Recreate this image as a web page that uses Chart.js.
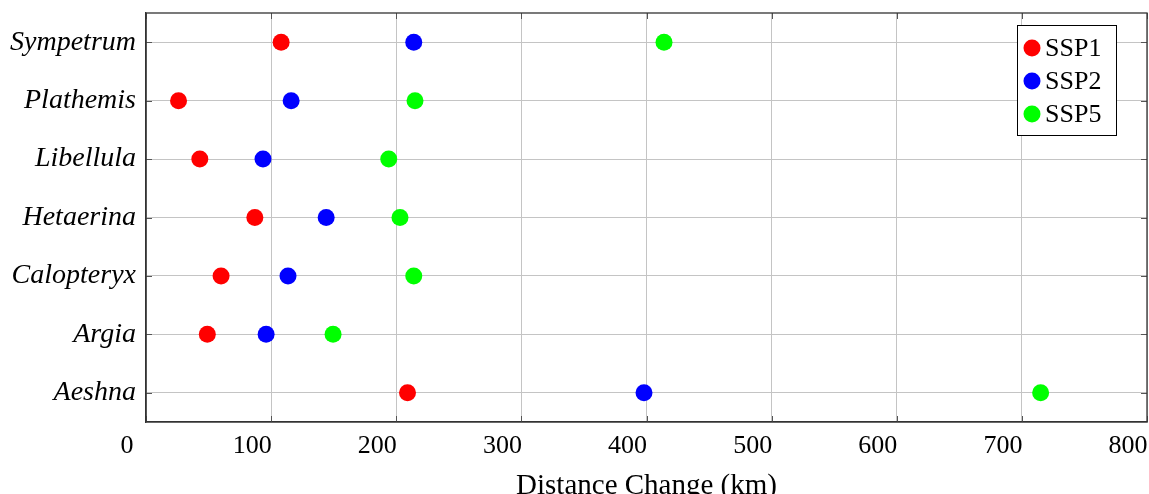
<!DOCTYPE html>
<html>
<head>
<meta charset="utf-8">
<script src="https://cdn.jsdelivr.net/npm/chart.js@4/dist/chart.umd.min.js"></script>
<style>
  html, body { margin: 0; padding: 0; background: #fff; overflow: hidden; }
  #wrap { width: 1149px; height: 510px; }
</style>
</head>
<body>
<div id="wrap"><canvas id="chart"></canvas></div>
<script>
const genera = ['Sympetrum', 'Plathemis', 'Libellula', 'Hetaerina', 'Calopteryx', 'Argia', 'Aeshna'];
const ssp1 = [108, 26, 43, 87, 60, 49, 209];
const ssp2 = [214, 116, 93.5, 144, 113.5, 96, 398];
const ssp5 = [414, 215, 194, 203, 214, 149.5, 715];
const xTicks = [0, 100, 200, 300, 400, 500, 600, 700, 800];

const serif = '"Liberation Serif", "DejaVu Serif", serif';

function points(values) {
    return values.map((v, i) => ({ x: v, y: genera[i] }));
}

function series(label, values, color) {
    return {
        label: label,
        data: points(values),
        backgroundColor: color,
        borderColor: color,
        pointRadius: 8.5,
        pointHoverRadius: 8.5,
        borderWidth: 0
    };
}

// legend drawn inside the plot, top right, like pgfplots
const insideLegend = {
    id: 'insideLegend',
    afterDraw(chart) {
        const ctx = chart.ctx;
        const area = chart.chartArea;
        const boxW = 99, boxH = 110;
        const left = area.right - 31 - boxW;
        const top = area.top + 12;
        ctx.save();
        ctx.fillStyle = '#fff';
        ctx.fillRect(left, top, boxW, boxH);
        ctx.strokeStyle = '#000';
        ctx.lineWidth = 1;
        ctx.strokeRect(left + 0.5, top + 0.5, boxW, boxH);
        ctx.font = '26px ' + serif;
        ctx.textBaseline = 'middle';
        chart.data.datasets.forEach((ds, i) => {
            const cy = top + 23 + i * 33;
            ctx.fillStyle = ds.backgroundColor;
            ctx.beginPath();
            ctx.arc(left + 15, cy, 8.5, 0, Math.PI * 2);
            ctx.fill();
            ctx.fillStyle = '#000';
            ctx.fillText(ds.label, left + 28, cy + 1);
        });
        ctx.restore();
    }
};

// frame + small inward tick marks on all four sides
const innerTicks = {
    id: 'innerTicks',
    afterDatasetsDraw(chart) {
        const ctx = chart.ctx;
        const area = chart.chartArea;
        const xs = chart.scales.x, ys = chart.scales.y;
        ctx.save();
        ctx.strokeStyle = '#555';
        ctx.lineWidth = 1;
        ctx.beginPath();
        xs.ticks.forEach((t, i) => {
            const px = Math.round(xs.getPixelForTick(i)) + 0.5;
            ctx.moveTo(px, area.bottom); ctx.lineTo(px, area.bottom - 6);
            ctx.moveTo(px, area.top); ctx.lineTo(px, area.top + 6);
        });
        ys.ticks.forEach((t, i) => {
            const py = Math.round(ys.getPixelForTick(i)) + 0.5;
            ctx.moveTo(area.left, py); ctx.lineTo(area.left + 6, py);
            ctx.moveTo(area.right, py); ctx.lineTo(area.right - 6, py);
        });
        ctx.stroke();
        ctx.strokeStyle = '#333';
        ctx.lineWidth = 1.3;
        ctx.strokeRect(area.left, area.top, area.right - area.left, area.bottom - area.top);
        ctx.restore();
    }
};

new Chart(document.getElementById('chart'), {
    type: 'scatter',
    data: {
        datasets: [
            series('SSP1', ssp1, '#ff0000'),
            series('SSP2', ssp2, '#0000ff'),
            series('SSP5', ssp5, '#00ff00')
        ]
    },
    options: {
        responsive: true,
        maintainAspectRatio: false,
        animation: false,
        layout: { autoPadding: false, padding: { top: 13, right: 2, left: 0, bottom: 6 } },
        plugins: {
            legend: { display: false },
            tooltip: { enabled: false }
        },
        scales: {
            x: {
                type: 'linear',
                min: 0,
                max: 800,
                afterBuildTicks(scale) {
                    scale.ticks = xTicks.map(v => ({ value: v }));
                },
                afterFit(scale) {
                    scale.height = 82;
                    scale.paddingLeft = 0;
                    scale.paddingRight = 0;
                },
                ticks: {
                    color: '#000',
                    font: { family: serif, size: 26 },
                    labelOffset: -19,
                    padding: 9,
                    maxRotation: 0
                },
                grid: { color: '#c4c4c4', lineWidth: 1, drawTicks: false },
                border: { color: '#333', width: 1.3 },
                title: {
                    display: true,
                    text: 'Distance Change (km)',
                    color: '#000',
                    font: { family: serif, size: 29 },
                    padding: { top: 0, bottom: 0 }
                }
            },
            y: {
                type: 'category',
                labels: genera,
                offset: true,
                afterFit(scale) {
                    scale.width = 146;
                    scale.paddingTop = 0;
                    scale.paddingBottom = 0;
                },
                ticks: {
                    color: '#000',
                    font: { family: serif, size: 28, style: 'italic' },
                    padding: 10
                },
                grid: { color: '#c4c4c4', lineWidth: 1, drawTicks: false, offset: false },
                border: { color: '#333', width: 1.3 }
            }
        }
    },
    plugins: [innerTicks, insideLegend]
});
</script>
</body>
</html>
